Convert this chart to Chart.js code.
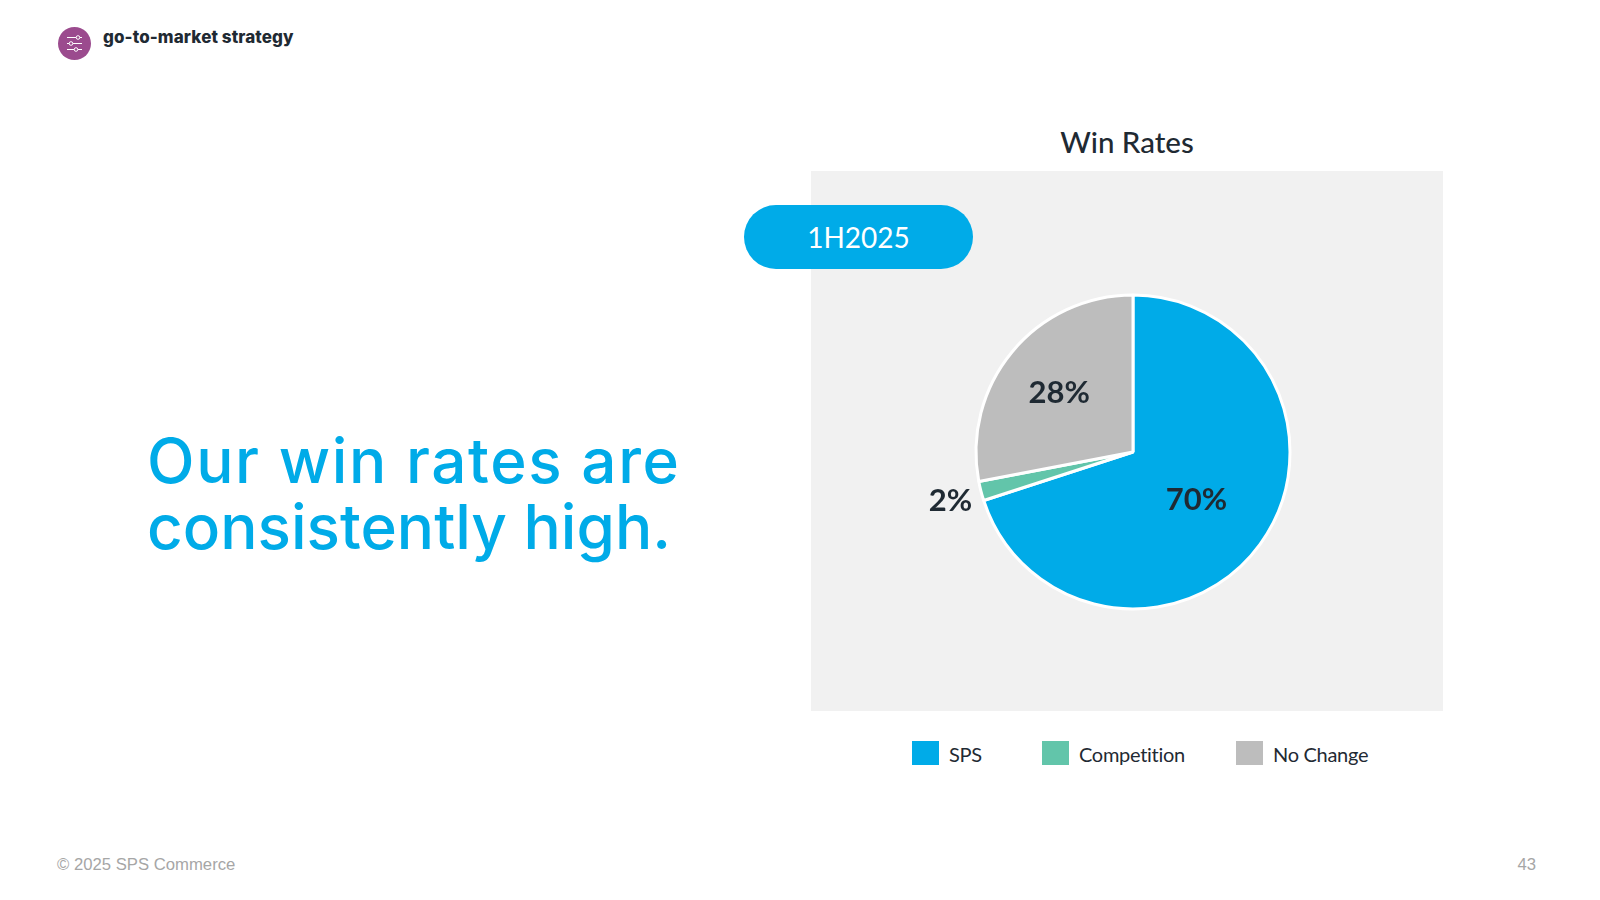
<!DOCTYPE html>
<html>
<head>
<meta charset="utf-8">
<title>Win Rates</title>
<script src="https://cdn.jsdelivr.net/npm/chart.js@4"></script>
<style>
html, body { margin: 0; padding: 0; background: #fff; }
#page { position: relative; width: 1600px; height: 900px; overflow: hidden; color: #1f2a33; font-family: Lato, sans-serif; }
#page > * { position: absolute; }
#icon { left: 58px; top: 27px; width: 33px; height: 33px; }
#topic { left: 103px; top: 25px; font: 800 17px Inter, sans-serif; letter-spacing: 0.1px; line-height: 24px; white-space: nowrap; }
#headline { left: 147px; top: 428px; font: 500 62px Inter, sans-serif; line-height: 66px; color: #00abe8; white-space: nowrap; }
#headline b { font-weight: 500; letter-spacing: 1.6px; }
#chartTitle { left: 811px; width: 632px; top: 122px; text-align: center; font-size: 29.5px; font-weight: 500; line-height: 40px; }
#panel { left: 811px; top: 171px; width: 632px; height: 540px; background: #f1f1f1; }
#winChart { left: 811px; top: 171px; }
#pill { left: 744px; top: 205px; width: 229px; height: 64px; border-radius: 32px; background: #00abe8; color: #fff; text-align: center; font-size: 28px; line-height: 64px; }
.legend-item { top: 741px; height: 24px; white-space: nowrap; font-size: 20px; letter-spacing: -0.3px; line-height: 24px; }
.legend-item i { position: absolute; left: 0; top: 0; width: 27px; height: 24px; }
.legend-item span { position: absolute; left: 37px; top: 1px; }
.foot { top: 854px; font: 16.7px "Liberation Sans", sans-serif; line-height: 22px; color: #a6a6a6; }
</style>
</head>
<body>
<div id="page">
  <svg id="icon" viewBox="0 0 33 33">
    <circle cx="16.5" cy="16.5" r="16.5" fill="#9b4b8e"/>
    <g stroke="#fff" stroke-width="1" fill="#9b4b8e">
      <path d="M9 10.5H24M9 16.5H24M9 22.5H24"/>
      <circle cx="20" cy="10.5" r="1.8"/>
      <circle cx="13" cy="16.5" r="1.8"/>
      <circle cx="18" cy="22.5" r="1.8"/>
    </g>
  </svg>
  <div id="topic">go-to-market strategy</div>
  <div id="headline"><b>Our win rates are</b><br>consistently high.</div>
  <div id="chartTitle"></div>
  <div id="panel"></div>
  <canvas id="winChart" width="632" height="540"></canvas>
  <div id="pill"></div>
  <div class="foot" style="left:57px">© 2025 SPS Commerce</div>
  <div class="foot" style="right:64px">43</div>
</div>
<script>
var chartTitle = "Win Rates";
var periodLabel = "1H2025";
var categories = ["SPS", "Competition", "No Change"];
var winRates = [70, 2, 28];
var sliceColors = ["#00abe8", "#62c5aa", "#bdbdbd"];

// how far out each value label sits, as a share of the radius
var labelDistance = [0.5, 1.2, 0.61];
var legendLeft = [912, 1042, 1236];

document.getElementById("chartTitle").textContent = chartTitle;
document.getElementById("pill").textContent = periodLabel;

categories.forEach(function (name, i) {
  var item = document.createElement("div");
  item.className = "legend-item";
  item.style.left = legendLeft[i] + "px";
  var box = document.createElement("i");
  box.style.background = sliceColors[i];
  var text = document.createElement("span");
  text.textContent = name;
  item.appendChild(box);
  item.appendChild(text);
  document.getElementById("page").appendChild(item);
});

var valueLabels = {
  id: "valueLabels",
  afterDatasetsDraw: function (chart) {
    var ctx = chart.ctx;
    ctx.save();
    ctx.font = "700 31px Lato, sans-serif";
    ctx.fillStyle = "#1f2a33";
    ctx.textAlign = "center";
    ctx.textBaseline = "middle";
    chart.getDatasetMeta(0).data.forEach(function (arc, i) {
      var mid = (arc.startAngle + arc.endAngle) / 2;
      var r = arc.outerRadius * labelDistance[i];
      ctx.fillText(winRates[i] + "%", arc.x + Math.cos(mid) * r, arc.y + Math.sin(mid) * r + 2);
    });
    ctx.restore();
  }
};

new Chart(document.getElementById("winChart").getContext("2d"), {
  type: "pie",
  data: {
    labels: categories,
    datasets: [{
      data: winRates,
      backgroundColor: sliceColors,
      borderColor: "#fff",
      borderWidth: 3,
      radius: 157
    }]
  },
  options: {
    responsive: false,
    animation: false,
    layout: { padding: { left: 12, top: 22 } },
    plugins: {
      legend: { display: false },
      tooltip: { enabled: false }
    }
  },
  plugins: [valueLabels]
});
</script>
</body>
</html>
